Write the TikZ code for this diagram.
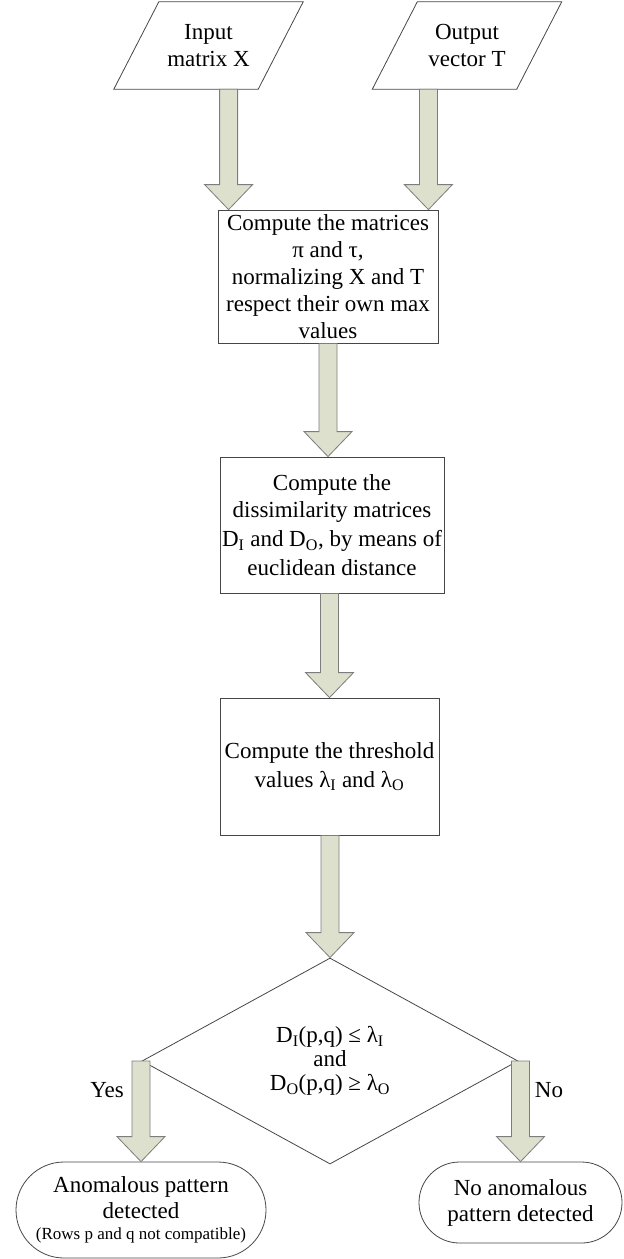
\documentclass[tikz,border=0pt]{standalone}
\usepackage{fontspec}
\setmainfont{Liberation Serif}
\usetikzlibrary{shapes.geometric,shapes.misc,calc}
\definecolor{arrowfill}{RGB}{221,224,204}
\definecolor{arrowline}{RGB}{125,125,125}
\definecolor{linegray}{RGB}{70,70,70}

% block arrow, x taken from the start point, tip at the end point
\newcommand{\fatarrow}[2]{%
  \draw[fat arrow] let \p1=#1, \p2=#2 in
    (\x1-9pt,\y1) -- (\x1-9pt,\y2+25pt) -- (\x1-24pt,\y2+25pt) -- (\x1,\y2)
    -- (\x1+24pt,\y2+25pt) -- (\x1+9pt,\y2+25pt) -- (\x1+9pt,\y1) -- cycle;}
% slanted frame round an io node
\newcommand{\ioframe}[1]{%
  \draw[io frame] ([xshift=-22.5pt]#1.south west) -- ([xshift=22.5pt]#1.north west)
    -- ([xshift=22.5pt]#1.north east) -- ([xshift=-22.5pt]#1.south east) -- cycle;}

\begin{document}
\begin{tikzpicture}[x=1pt, y=1pt,
    every node/.style = {align=center, text=black,
      font=\fontsize{23}{27}\selectfont},
    io/.style = {shape=rectangle, minimum width=144pt, minimum height=87pt,
      inner sep=0pt},
    io frame/.style = {draw=linegray, line width=0.8pt},
    process/.style = {shape=rectangle, draw=linegray, line width=0.8pt,
      inner sep=0pt},
    decision/.style = {shape=diamond, draw=linegray, line width=0.8pt,
      minimum width=376pt, minimum height=206pt, aspect=1.8, inner sep=0pt},
    terminal/.style = {shape=rounded rectangle, draw=linegray,
      line width=0.8pt, inner sep=0pt},
    fat arrow/.style = {draw=arrowline, fill=arrowfill, line width=0.8pt}]
  \useasboundingbox (0,0) rectangle (624,-1259);

  \node[io] (input) at (208.5,-45.5) {Input\\matrix X};
  \node[io] (output) at (467,-45.5) {Output\\vector T};
  \ioframe{input}
  \ioframe{output}

  \node[process, minimum width=220pt, minimum height=133pt] (norm)
    at (328,-276.5) {Compute the matrices\\π and τ,\\normalizing X and T\\
    respect their own max\\values};
  \node[process, minimum width=224pt, minimum height=136pt] (dissim)
    at (332,-525) {Compute the\\dissimilarity matrices\\[2pt]
    D\textsubscript{I} and D\textsubscript{O}, by means of\\[2pt]
    euclidean distance};
  \node[process, minimum width=219pt, minimum height=137pt] (thresh)
    at (329.5,-766.5) {Compute the threshold\\[2pt]
    values λ\textsubscript{I} and λ\textsubscript{O}};

  \node[decision] (check) at (330,-1061)
    {D\textsubscript{I}(p,q) ≤ λ\textsubscript{I}\\[-3pt]and\\[-3pt]
    D\textsubscript{O}(p,q) ≥ λ\textsubscript{O}};

  \node[terminal, minimum width=250pt, minimum height=96pt] (anom)
    at (141,-1210) {Anomalous pattern\\[-1pt]detected\\[-6pt]
    {\fontsize{17}{19}\selectfont (Rows p and q not compatible)}};
  \node[terminal, minimum width=203pt, minimum height=81pt] (noanom)
    at (520.5,-1202.5) {No anomalous\\[-1pt]pattern detected};

  \fatarrow{($(norm.north west |- input.south)+(11,0)$)}{($(norm.north west)+(11,0)$)}
  \fatarrow{($(norm.north east |- output.south)+(-10,0)$)}{($(norm.north east)+(-10,0)$)}
  \fatarrow{(norm.south)}{(dissim.north -| norm.south)}
  \fatarrow{(thresh.north |- dissim.south)}{(thresh.north)}
  \fatarrow{(check.north |- thresh.south)}{(check.north)}
  \fatarrow{(anom.north |- check.west)}{(anom.north)}
  \fatarrow{(noanom.north |- check.east)}{(noanom.north)}

  \node (yes) at (107,-1090) {Yes};
  \node (no) at (549,-1090) {No};
\end{tikzpicture}
\end{document}
